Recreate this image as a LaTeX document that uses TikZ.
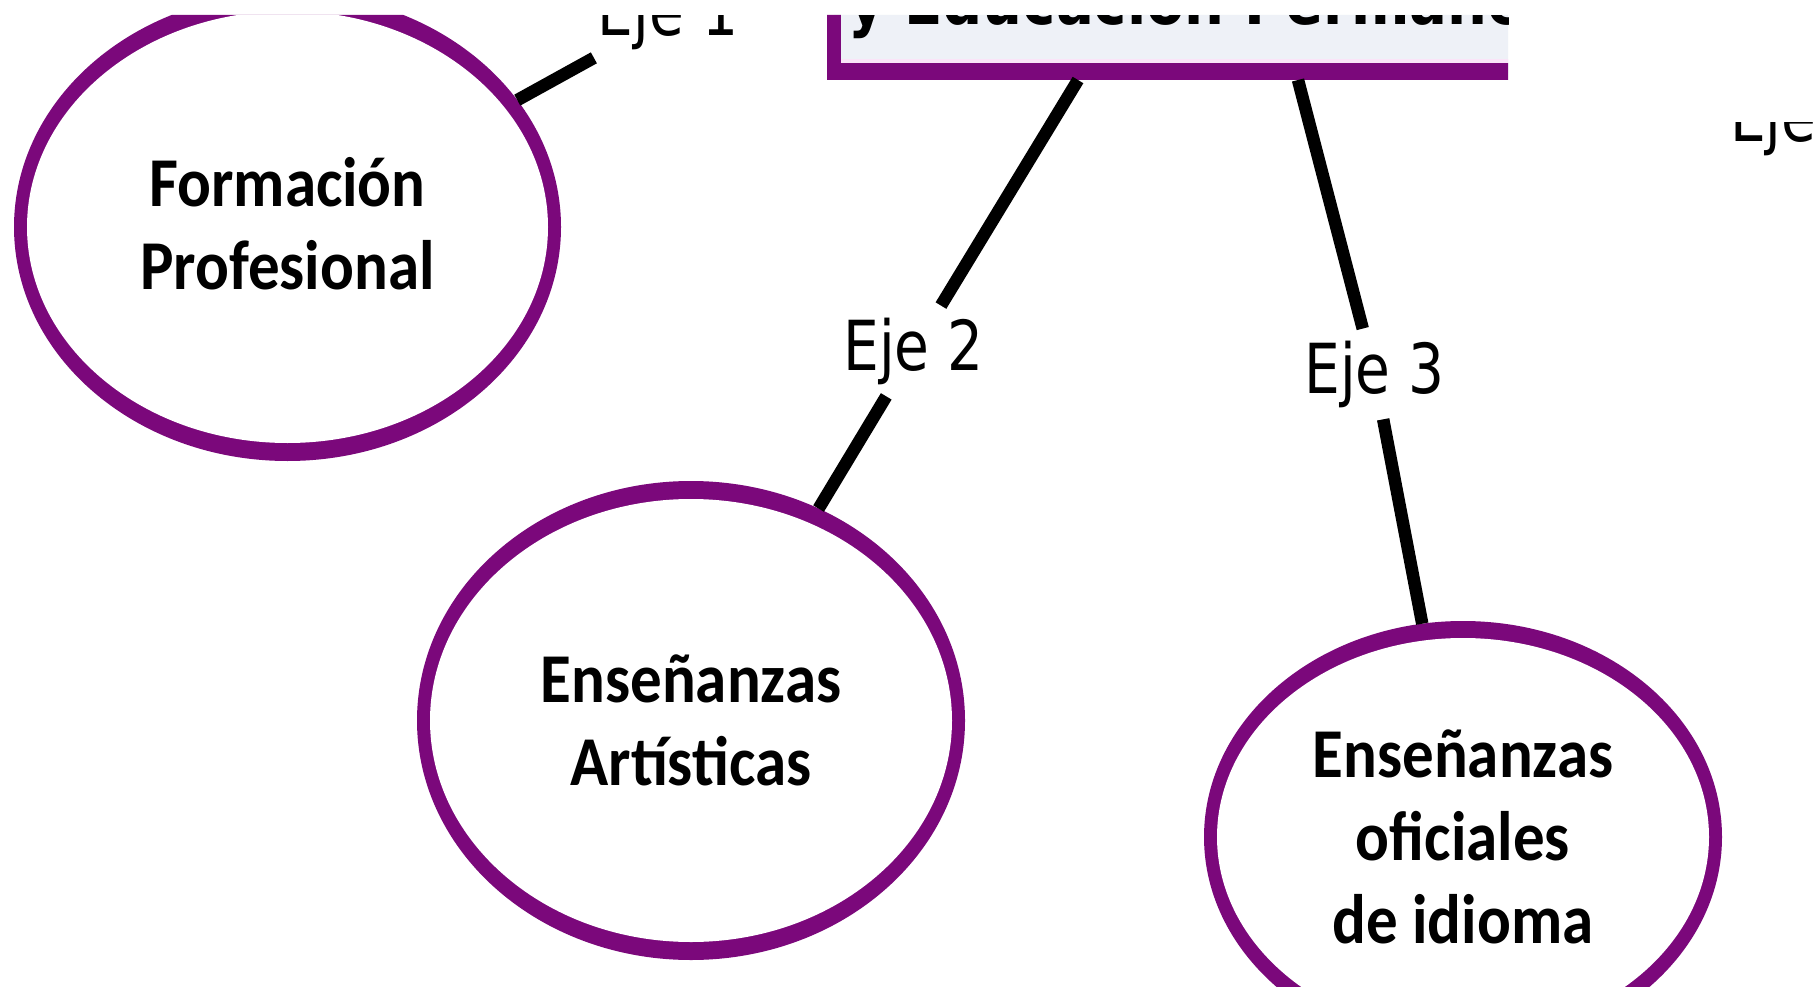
\documentclass[tikz,border=0pt]{standalone}
\usepackage{fontspec}
\usetikzlibrary{shapes.geometric}
\newfontfamily\labfont[FakeStretch=0.82]{DejaVu Sans}
\newfontfamily\titlefont[FakeStretch=0.85]{DejaVu Sans}
\newfontfamily\nodefont[FakeStretch=0.9]{Carlito}
\definecolor{purp}{RGB}{123,8,123}
\definecolor{boxfill}{RGB}{238,241,247}
\definecolor{pinkline}{RGB}{250,228,248}
\begin{document}
\begin{tikzpicture}[x=1pt,y=-1pt,
  ring/.style={ellipse, fill=purp, inner sep=0pt, outer sep=0pt},
  hole/.style={ellipse, fill=white, inner sep=0pt, outer sep=0pt, align=center,
    font=\nodefont\bfseries\fontsize{70}{83}\selectfont},
  conn/.style={line width=12.5pt, black},
  axislab/.style={font=\labfont\fontsize{69}{80}\selectfont, inner xsep=4pt, inner ysep=12pt, outer sep=0pt},
]
\fill[white] (0,0) rectangle (1818,987);
\useasboundingbox (0,0) rectangle (1818,987);
\begin{scope}
\clip (0,15) -- (1508,15) -- (1508,122) -- (1813,122) -- (1813,987) -- (0,987) -- cycle;
% top concept box (cut off)
\node[draw=purp, line width=14pt, fill=boxfill, inner sep=0pt, outer sep=0pt,
      anchor=south west, minimum width=900pt, minimum height=150pt] (box) at (834,73) {};
\fill[purp] (841,63) rectangle (1600,66);
\fill[pinkline] (841,59.5) rectangle (1600,63);
\node[font=\titlefont\bfseries\fontsize{66}{76}\selectfont, anchor=base west, inner sep=0pt] (title) at (848,25) {y Educación Permanente};
% ellipses
\node[ring, minimum width=547pt, minimum height=468pt] (A) at (287.5,227) {};
\node[hole, minimum width=521pt, minimum height=432pt] (Ai) at (A) {Formación\\Profesional\rule[-8pt]{0pt}{8pt}};
\node[ring, minimum width=548pt, minimum height=479pt] (B) at (691,720.5) {};
\node[hole, minimum width=522pt, minimum height=443pt] (Bi) at (B) {Enseñanzas\\Artísticas};
\node[ring, minimum width=518pt, minimum height=432pt] (C) at (1463,837) {};
\node[hole, minimum width=492pt, minimum height=398pt] (Ci) at (C) {Enseñanzas\\oficiales\\de idioma};
% linking labels
\node[axislab, anchor=base] (e1) at (668,36) {Eje 1};
\node[axislab, anchor=base] (e2) at (913.5,370) {Eje 2};
\node[axislab, anchor=base] (e3) at (1374.5,393) {Eje 3};
\node[axislab, anchor=base west, inner xsep=0pt] (e4) at (1730,142) {Eje};
\coordinate (b2) at (1078,80);
\coordinate (b3) at (1298,80);
% connectors
\draw[conn] (A) -- (e1);
\draw[conn] (b2) -- (e2);
\draw[conn] (e2) -- (B);
\draw[conn] (b3) -- (e3);
\draw[conn] (e3) -- (C);
\end{scope}
\end{tikzpicture}
\end{document}
